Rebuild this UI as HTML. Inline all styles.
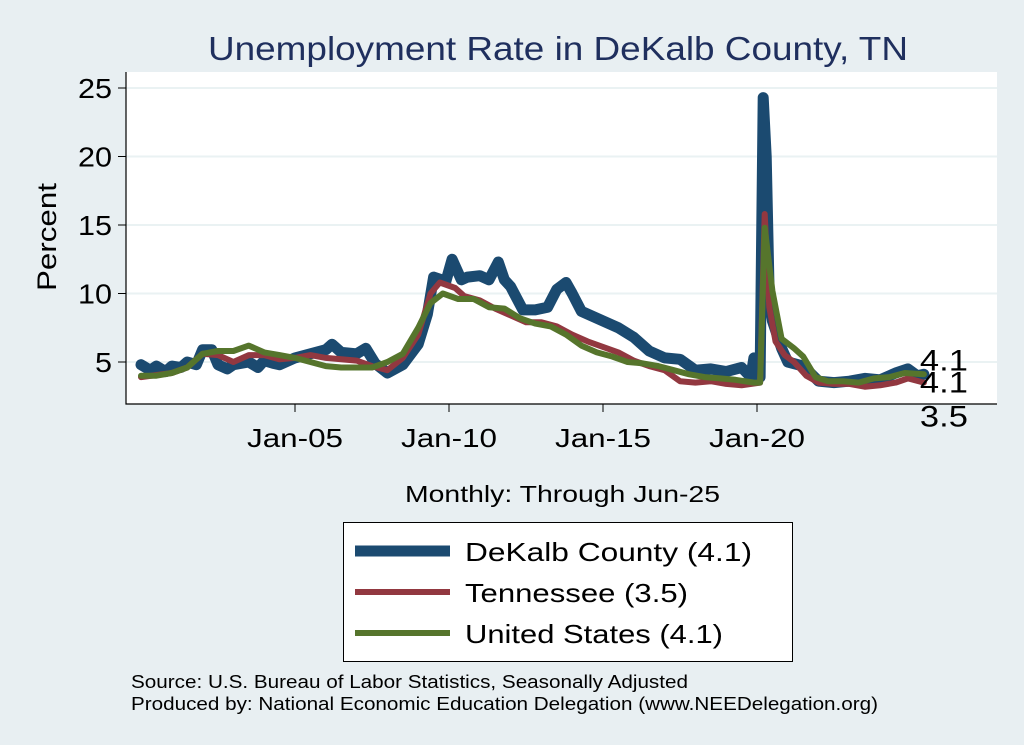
<!DOCTYPE html>
<html><head><meta charset="utf-8">
<style>
body{margin:0;background:#e8eff2;font-family:"Liberation Sans",sans-serif;}
#wrap{position:relative;width:1024px;height:745px;background:#e8eff2;overflow:hidden;}
svg text{font-family:"Liberation Sans",sans-serif;}
</style></head>
<body>
<div id="wrap">
<svg id="chart" width="1024" height="745"></svg>
</div>
<script>
const yTicks=[5,10,15,20,25];
const xTickYears=[2005,2010,2015,2020];
const xTickLabels=["Jan-05","Jan-10","Jan-15","Jan-20"];
const dekalbDates=[2000.0,2000.3,2000.5,2000.8,2001.0,2001.3,2001.5,2001.8,2002.0,2002.3,2002.5,2002.8,2003.0,2003.5,2003.8,2004.0,2004.3,2004.5,2005.0,2005.5,2006.0,2006.2,2006.5,2007.0,2007.3,2007.6,2008.0,2008.5,2009.0,2009.3,2009.5,2009.9,2010.1,2010.4,2010.6,2011.0,2011.3,2011.6,2011.8,2012.0,2012.4,2012.8,2013.2,2013.5,2013.8,2014.0,2014.3,2014.8,2015.5,2016.0,2016.5,2017.0,2017.5,2018.0,2018.5,2019.0,2019.5,2019.8,2019.9,2020.1,2020.2,2020.3,2020.4,2020.5,2020.8,2021.0,2021.5,2022.0,2022.5,2023.0,2023.5,2024.0,2024.5,2024.9,2025.2,2025.42];
const dekalbValues=[4.8,4.4,4.7,4.3,4.7,4.6,5.0,4.8,5.9,5.9,4.8,4.5,4.8,5.0,4.6,5.1,4.9,4.8,5.3,5.6,5.9,6.3,5.7,5.6,6.0,4.9,4.2,4.8,6.3,8.5,11.2,10.9,12.5,11.0,11.2,11.3,11.0,12.3,11.0,10.5,8.8,8.8,9.0,10.3,10.8,10.0,8.7,8.2,7.5,6.8,5.8,5.3,5.2,4.4,4.5,4.3,4.6,3.9,5.3,3.9,24.3,20.0,9.5,8.0,6.0,5.0,4.7,3.6,3.5,3.6,3.8,3.7,4.2,4.5,4.0,4.1];
const tnDates=[2000.0,2001.0,2001.5,2002.0,2002.5,2003.0,2003.5,2004.0,2004.5,2005.0,2005.5,2006.0,2006.5,2007.0,2007.5,2008.0,2008.5,2009.0,2009.4,2009.7,2010.2,2010.5,2011.0,2011.5,2012.0,2012.5,2013.0,2013.5,2014.0,2014.5,2015.0,2015.5,2016.0,2016.5,2017.0,2017.5,2018.0,2018.5,2019.0,2019.5,2020.1,2020.25,2020.4,2020.6,2020.9,2021.2,2021.6,2022.0,2022.5,2023.0,2023.5,2024.0,2024.5,2024.9,2025.42];
const tnValues=[3.9,4.2,4.6,5.6,5.5,5.0,5.5,5.5,5.2,5.3,5.5,5.3,5.2,5.1,4.7,4.4,5.3,7.0,10.0,10.8,10.4,9.8,9.5,8.9,8.4,7.9,7.9,7.6,7.0,6.5,6.1,5.7,5.1,4.7,4.4,3.6,3.5,3.6,3.4,3.3,3.5,15.8,9.0,6.5,5.5,5.0,4.0,3.5,3.4,3.4,3.2,3.3,3.5,3.8,3.5];
const usDates=[2000.0,2000.5,2001.0,2001.5,2002.0,2002.5,2003.0,2003.5,2004.0,2004.5,2005.0,2005.5,2006.0,2006.5,2007.0,2007.5,2008.0,2008.5,2009.0,2009.4,2009.8,2010.3,2010.8,2011.3,2011.8,2012.3,2012.8,2013.3,2013.8,2014.3,2014.8,2015.3,2015.8,2016.3,2016.8,2017.3,2017.8,2018.3,2018.8,2019.3,2019.9,2020.1,2020.25,2020.5,2020.8,2021.2,2021.5,2021.9,2022.3,2022.8,2023.3,2023.8,2024.3,2024.8,2025.42];
const usValues=[4.0,4.0,4.2,4.6,5.6,5.8,5.8,6.2,5.7,5.5,5.3,5.0,4.7,4.6,4.6,4.6,5.0,5.6,7.5,9.3,10.0,9.6,9.6,9.0,8.9,8.2,7.8,7.6,7.0,6.2,5.7,5.4,5.0,4.9,4.7,4.4,4.1,3.9,3.8,3.7,3.5,3.5,14.8,10.2,6.7,6.0,5.4,3.9,3.6,3.6,3.5,3.8,3.9,4.2,4.1];
const endLabels=["4.1","4.1","3.5"];

const svg=document.getElementById('chart');
const NS="http://www.w3.org/2000/svg";
const L=126,R=997,T=72,B=404;
function xS(yr){return 141+(yr-2000)*30.8;}
function yS(v){return 430.5-v*13.7;}
function mk(tag,attrs){const e=document.createElementNS(NS,tag);for(const k in attrs)e.setAttribute(k,attrs[k]);svg.appendChild(e);return e;}

const bg=mk('rect',{x:L,y:T,width:R-L,height:B-T,fill:'#ffffff'});


yTicks.forEach(v=>{
  const g=mk('line',{x1:L,x2:R,y1:yS(v),y2:yS(v),stroke:'#eaf2f3','stroke-width':2});
  
  
  const t=mk('line',{x1:L-8,x2:L,y1:yS(v),y2:yS(v),stroke:'#000','stroke-width':1});
  
  
  const tx=mk('text',{x:112,y:yS(v)+10,'text-anchor':'end','font-size':28,fill:'#000',textLength:String(v).length*17,lengthAdjust:'spacingAndGlyphs'});
  tx.textContent=v;
  
  
});
xTickYears.forEach((yr,i)=>{
  const t=mk('line',{x1:xS(yr),x2:xS(yr),y1:B,y2:B+8,stroke:'#000','stroke-width':1});
  
  
  const tx=mk('text',{x:xS(yr)-48,y:B+43,'font-size':26,fill:'#000',textLength:96,lengthAdjust:'spacingAndGlyphs'});
  tx.textContent=xTickLabels[i];
  
  
});
const ax=mk('path',{d:`M${L} ${T}V${B}H${R}`,fill:'none',stroke:'#000','stroke-width':1.2});



function line(dates,vals,color,w,name){
  const d=dates.map((t,i)=>(i?'L':'M')+xS(t).toFixed(1)+' '+yS(vals[i]).toFixed(1)).join('');
  const p=mk('path',{d:d,fill:'none',stroke:color,'stroke-width':w,'stroke-linejoin':'round','stroke-linecap':'round'});
  
  
}
line(dekalbDates,dekalbValues,'#1b4a70',11,'dekalb-line');
line(tnDates,tnValues,'#923840',6,'tennessee-line');
line(usDates,usValues,'#56752c',6,'us-line');

const lastX=xS(2025.42);
const labY=[yS(dekalbValues[dekalbValues.length-1])-4,yS(usValues[usValues.length-1])+18,yS(tnValues[tnValues.length-1])+44];
endLabels.forEach((s,i)=>{
  const tx=mk('text',{x:lastX-4,y:labY[i],'font-size':30,fill:'#000',textLength:48,lengthAdjust:'spacingAndGlyphs'});
  tx.textContent=s;
  
  
});

function txt(x,y,s,size,fill,name,len,rot){
  const a={x:x,y:y,'font-size':size,fill:fill,textLength:len,lengthAdjust:'spacingAndGlyphs'};
  if(rot)a.transform=rot;
  const t=mk('text',a);t.textContent=s;
  
  
  return t;
}
txt(208,60,'Unemployment Rate in DeKalb  County, TN',33,'#1f2f5e','chart-title',700);
txt(0,0,'Percent',27,'#000','y-axis-title',108,'translate(56,291) rotate(-90)');
txt(405,502,'Monthly: Through Jun-25',23,'#000','x-axis-title',315);
const lg=mk('rect',{x:343.5,y:522.5,width:449,height:139,fill:'#fff',stroke:'#000','stroke-width':1});


const legNames=['DeKalb  County (4.1)','Tennessee (3.5)','United States (4.1)'];
const legColors=['#1b4a70','#923840','#56752c'];
const legW=[11,6,6];
const legLen=[287,223,258];
legNames.forEach((e,i)=>{
  const y=551+i*41;
  const l=mk('line',{x1:355,x2:450,y1:y,y2:y,stroke:legColors[i],'stroke-width':legW[i]});
  
  
  txt(465,y+10,e,26,'#000','legend-entry-'+i,legLen[i]);
});
txt(131,688,'Source: U.S. Bureau of Labor Statistics, Seasonally Adjusted',18,'#000','source-note',557);
txt(131,710,'Produced by: National Economic Education Delegation (www.NEEDelegation.org)',18,'#000','producer-note',747);
</script>
</body></html>
